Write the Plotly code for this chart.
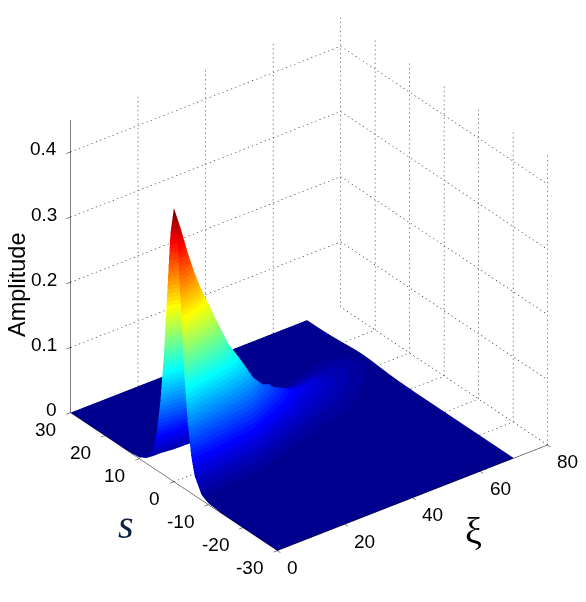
import numpy as np
import plotly.graph_objects as go

# tick labels
xi_ticks = [0, 20, 40, 60, 80]
s_ticks = [-30, -20, -10, 0, 10, 20, 30]
z_ticks = [0, 0.1, 0.2, 0.3, 0.4]
xi_max = 80
s_min, s_max = -30, 30
z_top = 0.449

# surface (ridge drifts towards s>0 further out)
xi_vals = [0, 2, 4, 6, 8, 12, 16, 20, 25, 30, 35, 40, 45, 50, 55, 60, 65, 70]
s_vals = [-30, -20, -14, -10, -8, -6, -5, -4, -3, -2, -1, 0, 1, 2, 3, 4, 5, 6, 8, 10, 12, 14, 16, 18, 20, 23, 26, 30]
amp_xi0 = [0, 0, 0, .002, .008, .03, .057, .105, .176, .277, .378, .42, .378, .277, .176, .105, .057, .03, .008, .002, .0005, 0, 0, 0, 0, 0, 0, 0]
amp_xi2 = [0, 0, 0, .002, .007, .027, .052, .096, .162, .254, .347, .385, .347, .254, .162, .096, .052, .027, .007, .002, .0005, 0, 0, 0, 0, 0, 0, 0]
amp_xi4 = [0, 0, 0, .002, .007, .024, .047, .086, .145, .228, .31, .345, .31, .228, .145, .086, .047, .024, .007, .002, .0004, 0, 0, 0, 0, 0, 0, 0]
amp_xi6 = [0, 0, 0, .0016, .006, .022, .042, .078, .13, .205, .279, .31, .279, .205, .13, .078, .042, .022, .006, .0016, .0004, 0, 0, 0, 0, 0, 0, 0]
amp_xi8 = [0, 0, 0, .0014, .005, .02, .038, .07, .118, .185, .252, .28, .252, .185, .118, .07, .038, .02, .005, .0014, .0004, 0, 0, 0, 0, 0, 0, 0]
amp_xi12 = [0, 0, 0, .0012, .0044, .016, .031, .058, .097, .152, .207, .23, .207, .152, .097, .058, .031, .016, .0044, .0012, .0003, 0, 0, 0, 0, 0, 0, 0]
amp_xi16 = [0, 0, 0, .0009, .0034, .013, .024, .045, .076, .119, .162, .18, .162, .119, .076, .045, .024, .013, .0034, .0009, .0002, 0, 0, 0, 0, 0, 0, 0]
amp_xi20 = [0, 0, 0, .0007, .0028, .01, .02, .036, .061, .096, .13, .145, .13, .096, .061, .036, .02, .01, .0028, .0007, .0002, 0, 0, 0, 0, 0, 0, 0]
amp_xi25 = [0, 0, 0, .0003, .0012, .0044, .0086, .016, .028, .049, .075, .098, .104, .09, .064, .04, .023, .0126, .0034, .0009, .0002, 0, 0, 0, 0, 0, 0, 0]
amp_xi30 = [0, 0, 0, .0002, .0008, .0025, .0047, .0082, .0144, .0246, .039, .057, .075, .082, .075, .057, .039, .0246, .0082, .0025, .0008, .0002, 0, 0, 0, 0, 0, 0]
amp_xi35 = [0, 0, 0, .0002, .0006, .0017, .003, .005, .0082, .0138, .021, .033, .045, .057, .0625, .06, .05, .037, .0164, .0063, .0021, .0007, .0002, 0, 0, 0, 0, 0]
amp_xi40 = [0, 0, 0, .0001, .0004, .001, .0015, .0027, .0041, .0071, .0106, .016, .0237, .0324, .041, .046, .046, .041, .0237, .0106, .0041, .0015, .0006, .0002, 0, 0, 0, 0]
amp_xi45 = [0, 0, 0, .0001, .0003, .0008, .0012, .0019, .0028, .0044, .0066, .0098, .014, .0196, .026, .0317, .036, .037, .0294, .0174, .0083, .0037, .0016, .0007, .0003, .0001, 0, 0]
amp_xi50 = [0, 0, 0, .0001, .0003, .0007, .001, .0014, .0021, .0032, .0046, .0066, .0092, .0126, .0168, .0214, .0257, .0288, .0288, .0214, .0126, .0066, .0032, .0014, .0007, .0002, .0001, 0]
amp_xi55 = [0, 0, 0, .0001, .0002, .0005, .0006, .0009, .0014, .0019, .0027, .0037, .0052, .0069, .0095, .012, .015, .0176, .021, .0191, .0139, .0083, .0046, .0024, .0011, .0004, .0001, 0]
amp_xi60 = [0, 0, 0, 0, .0001, .0002, .0003, .0005, .0007, .0009, .0013, .0017, .0023, .0032, .0042, .0056, .0072, .009, .0126, .0149, .0135, .0095, .006, .0035, .0019, .0008, .0003, .0001]
amp_xi65 = [0, 0, 0, 0, .0001, .0001, .0002, .0002, .0003, .0004, .0005, .0007, .001, .0013, .0018, .0024, .0031, .004, .0063, .008, .0083, .007, .0052, .0036, .0022, .0009, .0004, .0001]
amp_xi70 = [0, 0, 0, 0, 0, .0001, .0001, .0001, .0001, .0001, .0002, .0003, .0004, .0005, .0006, .0008, .0011, .0014, .0024, .0034, .0044, .0048, .0044, .0034, .0024, .0011, .0005, .0002]

amp_rows = [amp_xi0, amp_xi2, amp_xi4, amp_xi6, amp_xi8, amp_xi12, amp_xi16, amp_xi20, amp_xi25,
            amp_xi30, amp_xi35, amp_xi40, amp_xi45, amp_xi50, amp_xi55, amp_xi60, amp_xi65, amp_xi70]

# matlab jet has 64 flat colours, the bands show on the surface
jet_idx = [0, 7, 23, 39, 55, 63]
jet_r = [0, 0, 0, 255, 255, 128]
jet_g = [0, 0, 255, 255, 0, 0]
jet_b = [143, 255, 255, 0, 0, 0]
jet = []
for i in range(64):
    col = "rgb(%d,%d,%d)" % (np.interp(i, jet_idx, jet_r), np.interp(i, jet_idx, jet_g), np.interp(i, jet_idx, jet_b))
    jet.append([i / 64, col])
    jet.append([(i + 1) / 64, col])

# exact zeros leave a dark seam along the edge of the flat part
z_all = np.maximum(np.array(amp_rows).T, 0.00005)

fig = go.Figure()
fig.add_trace(go.Surface(
    x=xi_vals, y=s_vals, z=z_all,
    colorscale=jet, cmin=0, cmax=0.42, showscale=False, hoverinfo="skip",
    contours=dict(x=dict(highlight=False), y=dict(highlight=False), z=dict(highlight=False)),
    lighting=dict(ambient=1, diffuse=0, specular=0, roughness=1, fresnel=0)))

# matlab style dotted grid on the floor and the two back walls
# gl dash patterns come out far too long, so each line is cut in short pieces
gx, gy, gz = [], [], []
def dotted(a, b, n):
    a, b = np.array(a, float), np.array(b, float)
    for i in range(n):
        p = a + (b - a) * i / n
        q = a + (b - a) * (i + 0.3) / n
        gx.extend([p[0], q[0], None])
        gy.extend([p[1], q[1], None])
        gz.extend([p[2], q[2], None])

for xi in xi_ticks[1:]:
    dotted((xi, s_max, 0), (xi, s_max, z_top), 66)
dotted((xi_max, s_min, 0), (xi_max, s_max, 0), 56)
for s in s_ticks[:-1]:
    # under the surface only s=0 can be seen, through the gap at xi=0
    if s == 0:
        dotted((0, s, 0), (12, s, 0), 10)
    dotted((xi_vals[-1], s, 0), (xi_max, s, 0), 8)
    dotted((xi_max, s, 0), (xi_max, s, z_top), 66)
for z in z_ticks[1:]:
    dotted((0, s_max, z), (xi_max, s_max, z), 64)
    dotted((xi_max, s_max, z), (xi_max, s_min, z), 56)

fig.add_trace(go.Scatter3d(x=gx, y=gy, z=gz, mode="lines", hoverinfo="skip",
                           line=dict(color="black", width=1),
                           showlegend=False))

axis = dict(showgrid=False, zeroline=False, showbackground=False, showline=True,
            linecolor="black", linewidth=1, ticks="outside", ticklen=5, tickcolor="black",
            tickwidth=1, showticklabels=False, showspikes=False, title=dict(text=""))

# tick labels stay upright in matlab, plotly would turn them along the axis
tick_font = dict(family="Liberation Sans", size=19, color="black")
labels = []
for z in z_ticks:
    labels.append(dict(x=0, y=s_max, z=z, text=str(z), showarrow=False, font=tick_font,
                       xanchor="right", xshift=-11, yshift=3))
for s in s_ticks:
    labels.append(dict(x=0, y=s, z=0, text=str(s), showarrow=False, font=tick_font,
                       xanchor="right", xshift=-12, yshift=-17))
for xi in xi_ticks:
    labels.append(dict(x=xi, y=s_min, z=0, text=str(xi), showarrow=False, font=tick_font,
                       xanchor="left", xshift=7.5, yshift=-17))

# the page body has an 8px margin
W, H = 578, 594
fig.update_layout(
    width=W, height=H,
    margin=dict(l=0, r=0, t=0, b=0),
    paper_bgcolor="white",
    showlegend=False,
    scene=dict(
        domain=dict(x=[24 / W, 1], y=[45 / H, 1]),
        xaxis=dict(axis, range=[0, xi_max], tickvals=xi_ticks, autorange=False),
        yaxis=dict(axis, range=[s_min, s_max], tickvals=s_ticks, autorange=False),
        zaxis=dict(axis, range=[0, z_top], tickvals=z_ticks, autorange=False),
        aspectmode="manual",
        aspectratio=dict(x=1.24, y=1.24, z=1.24),
        annotations=labels,
        camera=dict(projection=dict(type="orthographic"),
                    up=dict(x=0, y=0, z=1),
                    eye=dict(x=-0.863, y=-1.127, z=0.843)),
    ),
)
fig.add_annotation(text="Amplitude", x=9 / W, y=1 - 277 / H, xref="paper", yref="paper",
                   xanchor="center", yanchor="middle",
                   showarrow=False, textangle=-90,
                   font=dict(family="Liberation Sans", size=23.5, color="black"))
fig.add_annotation(text="<i>s</i>", x=118 / W, y=1 - 516 / H, xref="paper", yref="paper",
                   xanchor="center", yanchor="middle",
                   showarrow=False, font=dict(family="Liberation Serif", size=40, color="#0b1f3f"))
fig.add_annotation(text="ξ", x=465 / W, y=1 - 523 / H, xref="paper", yref="paper",
                   xanchor="center", yanchor="middle",
                   showarrow=False, font=dict(family="Liberation Serif", size=38, color="black"))

fig.write_html("out.html")
